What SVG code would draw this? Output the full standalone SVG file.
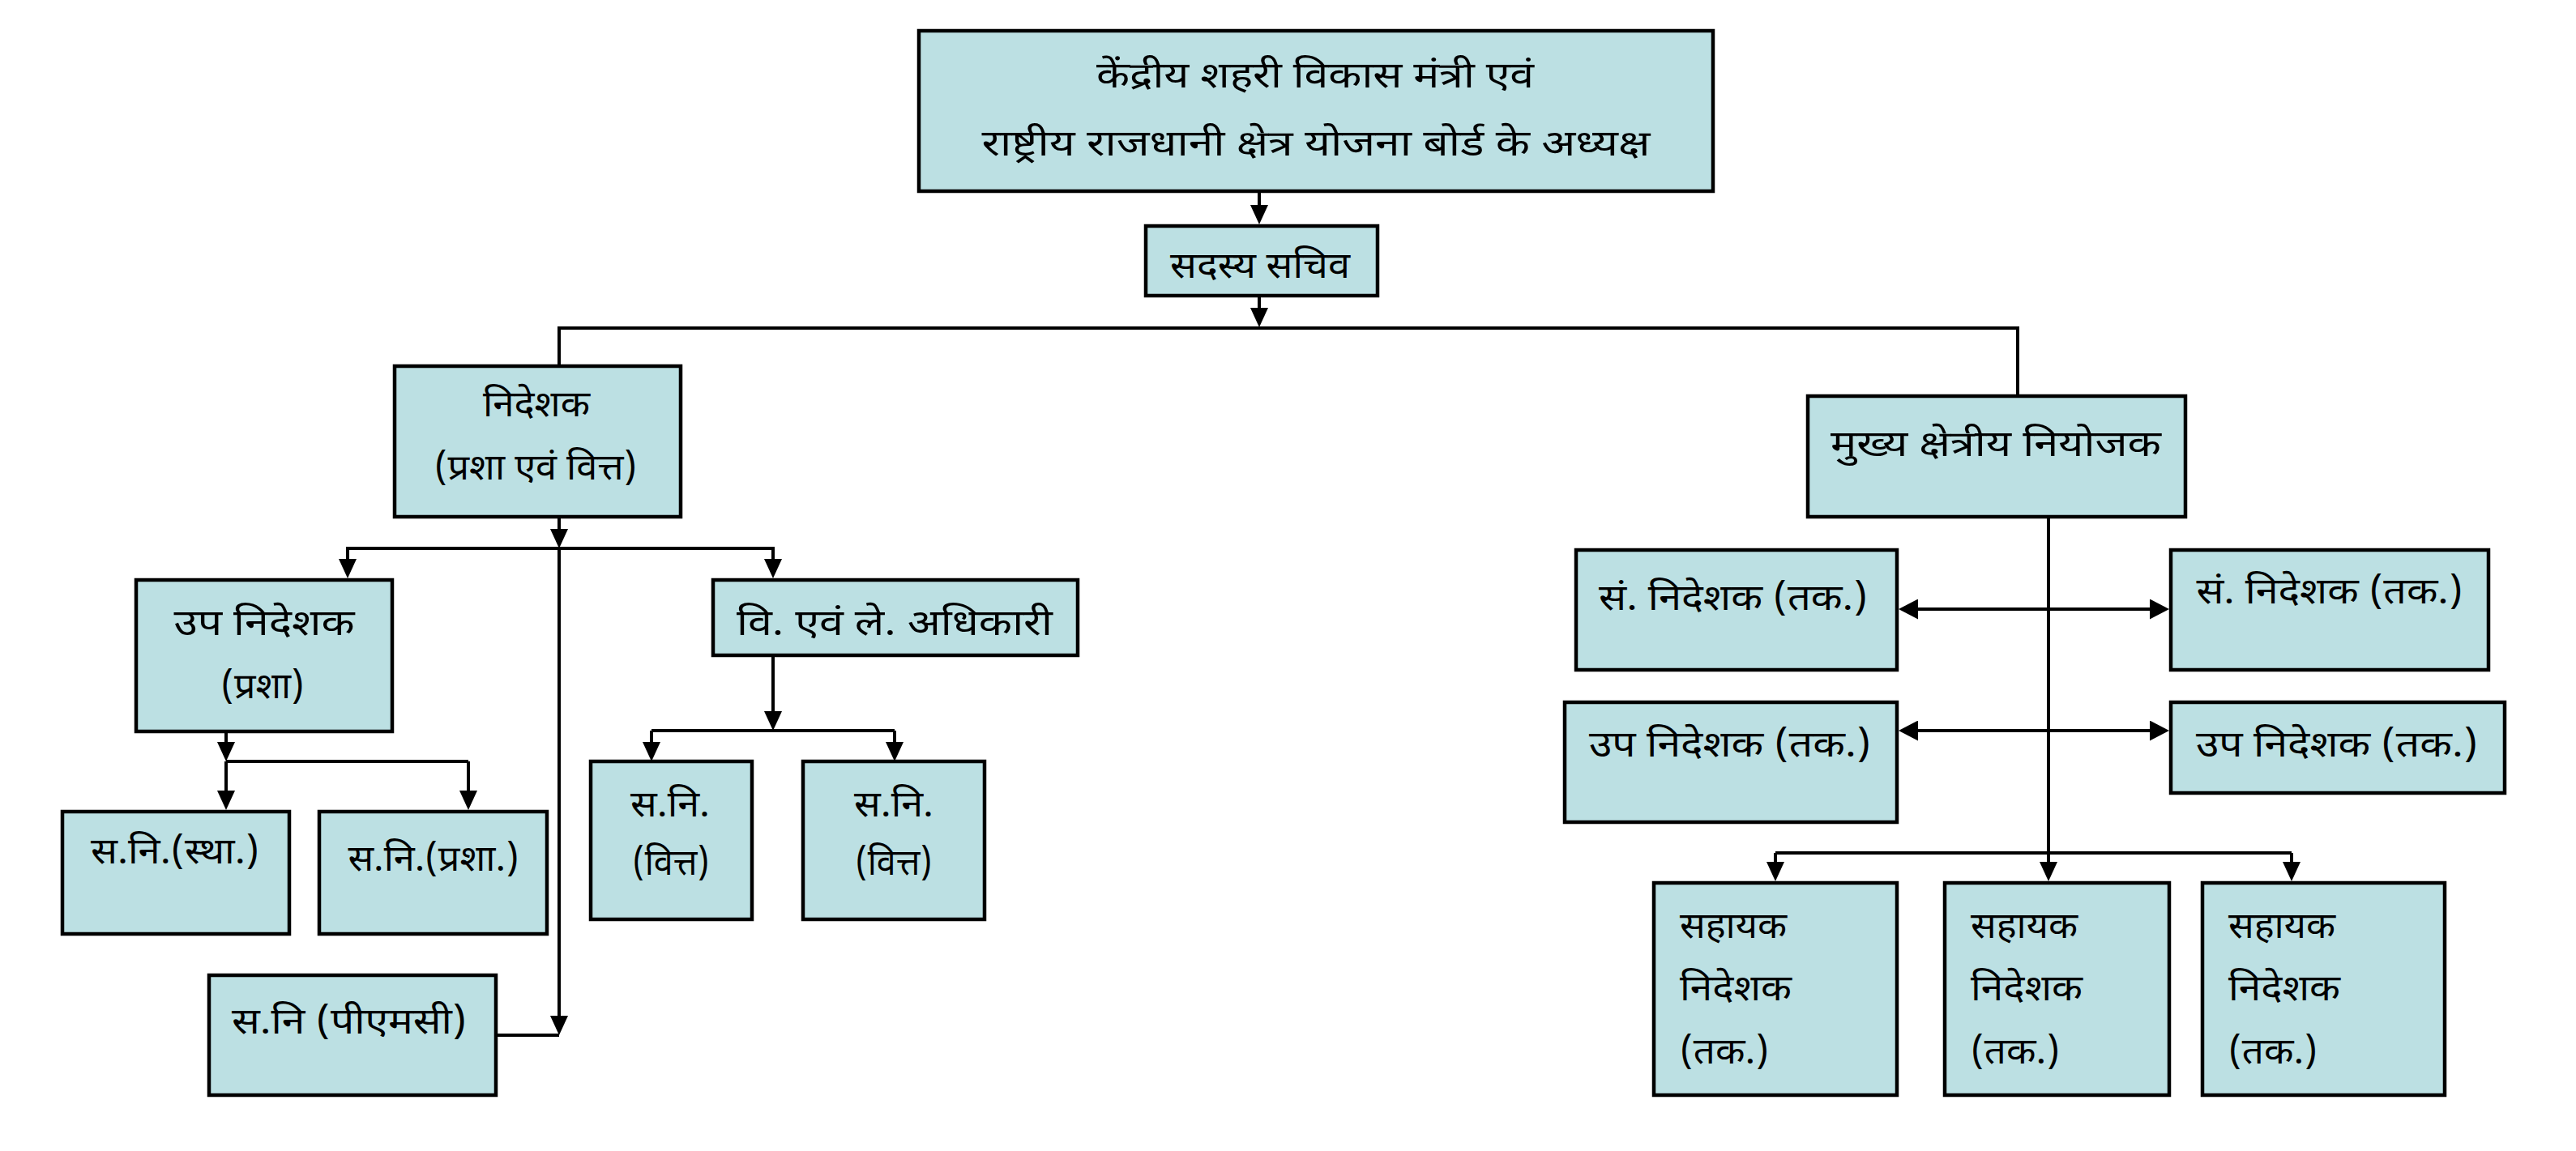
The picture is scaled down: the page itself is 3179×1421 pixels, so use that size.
<svg xmlns="http://www.w3.org/2000/svg" width="3179" height="1421" viewBox="0 0 3179 1421">
<defs>
<style>
.box{fill:#BCE0E3;stroke:#000;stroke-width:4.5}
.t{font-family:"Noto Sans Devanagari","Noto Sans","Lohit Devanagari","FreeSans",sans-serif;font-size:44px;fill:#000}
.c{text-anchor:middle}
.ln{fill:none;stroke:#000;stroke-width:4}
.ar{fill:none;stroke:#000;stroke-width:4;marker-end:url(#ah)}
.da{fill:none;stroke:#000;stroke-width:4;marker-start:url(#ah2);marker-end:url(#ah2)}
</style>
<marker id="ah" markerUnits="userSpaceOnUse" markerWidth="24" markerHeight="22" viewBox="0 0 24 22" refX="12" refY="11" orient="auto">
<path d="M0,0 L24,11 L0,22 z" fill="#000"/>
</marker>
<marker id="ah2" markerUnits="userSpaceOnUse" markerWidth="24" markerHeight="25" viewBox="0 0 24 25" refX="12" refY="12.5" orient="auto-start-reverse">
<path d="M0,0 L24,12.5 L0,25 z" fill="#000"/>
</marker>
</defs>
<rect width="3179" height="1421" fill="#fff"/>

<g id="connectors">
<path class="ar" d="M1554,238 V265"/>
<path class="ar" d="M1554,367 V392"/>
<path class="ln" d="M690,450 V405 H2490 V487"/>
<path class="ar" d="M690,640 V665"/>
<path class="ln" d="M429,690 V677 H954 V690"/>
<path class="ar" d="M429,677 V702"/>
<path class="ar" d="M954,677 V702"/>
<path class="ar" d="M690,677 V1266"/>
<path class="ln" d="M612,1278 H690"/>
<path class="ar" d="M279,905 V928"/>
<path class="ln" d="M279,940 H578"/>
<path class="ar" d="M279,940 V988"/>
<path class="ar" d="M578,940 V988"/>
<path class="ar" d="M954,811 V890"/>
<path class="ln" d="M804,902 H1104"/>
<path class="ar" d="M804,902 V928"/>
<path class="ar" d="M1104,902 V928"/>
<path class="ar" d="M2528,640 V1076"/>
<path class="ln" d="M2191,1053 H2828"/>
<path class="ar" d="M2191,1053 V1076"/>
<path class="ar" d="M2828,1053 V1076"/>
<path class="da" d="M2355,752 H2665"/>
<path class="da" d="M2355,902 H2665"/>
</g>

<g id="n-chairman">
<rect class="box" x="1134" y="38" width="980" height="198"/>
<text class="t c" x="1623" y="108" textLength="540" lengthAdjust="spacingAndGlyphs">केंद्रीय शहरी विकास मंत्री एवं</text>
<text class="t c" x="1624" y="192" textLength="825" lengthAdjust="spacingAndGlyphs">राष्ट्रीय राजधानी क्षेत्र योजना बोर्ड के अध्यक्ष</text>
</g>
<g id="n-member-secretary">
<rect class="box" x="1414" y="279" width="286" height="86"/>
<text class="t c" x="1555" y="343" textLength="222" lengthAdjust="spacingAndGlyphs">सदस्य सचिव</text>
</g>
<g id="n-director">
<rect class="box" x="487" y="452" width="353" height="186"/>
<text class="t c" x="662" y="514" textLength="132" lengthAdjust="spacingAndGlyphs">निदेशक</text>
<text class="t c" x="661" y="592" textLength="250" lengthAdjust="spacingAndGlyphs">(प्रशा एवं वित्त)</text>
</g>
<g id="n-dd-admin">
<rect class="box" x="168" y="716" width="316" height="187"/>
<text class="t c" x="326" y="784" textLength="223" lengthAdjust="spacingAndGlyphs">उप निदेशक</text>
<text class="t c" x="324" y="862" textLength="103" lengthAdjust="spacingAndGlyphs">(प्रशा)</text>
</g>
<g id="n-fao">
<rect class="box" x="880" y="716" width="450" height="93"/>
<text class="t c" x="1104" y="784" textLength="390" lengthAdjust="spacingAndGlyphs">वि. एवं ले. अधिकारी</text>
</g>
<g id="n-ad-estt">
<rect class="box" x="77" y="1002" width="280" height="151"/>
<text class="t c" x="216" y="1066" textLength="208" lengthAdjust="spacingAndGlyphs">स.नि.(स्था.)</text>
</g>
<g id="n-ad-admin">
<rect class="box" x="394" y="1002" width="281" height="151"/>
<text class="t c" x="535" y="1075" textLength="211" lengthAdjust="spacingAndGlyphs">स.नि.(प्रशा.)</text>
</g>
<g id="n-ad-fin-1">
<rect class="box" x="729" y="940" width="199" height="195"/>
<text class="t c" x="827" y="1008" textLength="98" lengthAdjust="spacingAndGlyphs">स.नि.</text>
<text class="t c" x="828" y="1080" textLength="95" lengthAdjust="spacingAndGlyphs">(वित्त)</text>
</g>
<g id="n-ad-fin-2">
<rect class="box" x="991" y="940" width="224" height="195"/>
<text class="t c" x="1103" y="1008" textLength="98" lengthAdjust="spacingAndGlyphs">स.नि.</text>
<text class="t c" x="1103" y="1080" textLength="95" lengthAdjust="spacingAndGlyphs">(वित्त)</text>
</g>
<g id="n-ad-pmc">
<rect class="box" x="258" y="1204" width="354" height="148"/>
<text class="t c" x="431" y="1276" textLength="290" lengthAdjust="spacingAndGlyphs">स.नि (पीएमसी)</text>
</g>
<g id="n-chief-planner">
<rect class="box" x="2231" y="489" width="466" height="149"/>
<text class="t c" x="2463" y="563" textLength="408" lengthAdjust="spacingAndGlyphs">मुख्य क्षेत्रीय नियोजक</text>
</g>
<g id="n-jd-left">
<rect class="box" x="1945" y="679" width="396" height="148"/>
<text class="t c" x="2139" y="753" textLength="332" lengthAdjust="spacingAndGlyphs">सं. निदेशक (तक.)</text>
</g>
<g id="n-jd-right">
<rect class="box" x="2679" y="679" width="392" height="148"/>
<text class="t c" x="2875" y="745" textLength="329" lengthAdjust="spacingAndGlyphs">सं. निदेशक (तक.)</text>
</g>
<g id="n-dd-left">
<rect class="box" x="1931" y="867" width="410" height="148"/>
<text class="t c" x="2135" y="934" textLength="348" lengthAdjust="spacingAndGlyphs">उप निदेशक (तक.)</text>
</g>
<g id="n-dd-right">
<rect class="box" x="2679" y="867" width="412" height="112"/>
<text class="t c" x="2884" y="934" textLength="348" lengthAdjust="spacingAndGlyphs">उप निदेशक (तक.)</text>
</g>
<g id="n-ad-tech-1">
<rect class="box" x="2041" y="1090" width="300" height="262"/>
<text class="t" x="2073" y="1158" textLength="132" lengthAdjust="spacingAndGlyphs">सहायक</text>
<text class="t" x="2073" y="1235" textLength="138" lengthAdjust="spacingAndGlyphs">निदेशक</text>
<text class="t" x="2073" y="1313" textLength="110" lengthAdjust="spacingAndGlyphs">(तक.)</text>
</g>
<g id="n-ad-tech-2">
<rect class="box" x="2400" y="1090" width="277" height="262"/>
<text class="t" x="2432" y="1158" textLength="132" lengthAdjust="spacingAndGlyphs">सहायक</text>
<text class="t" x="2432" y="1235" textLength="138" lengthAdjust="spacingAndGlyphs">निदेशक</text>
<text class="t" x="2432" y="1313" textLength="110" lengthAdjust="spacingAndGlyphs">(तक.)</text>
</g>
<g id="n-ad-tech-3">
<rect class="box" x="2718" y="1090" width="299" height="262"/>
<text class="t" x="2750" y="1158" textLength="132" lengthAdjust="spacingAndGlyphs">सहायक</text>
<text class="t" x="2750" y="1235" textLength="138" lengthAdjust="spacingAndGlyphs">निदेशक</text>
<text class="t" x="2750" y="1313" textLength="110" lengthAdjust="spacingAndGlyphs">(तक.)</text>
</g>
</svg>
